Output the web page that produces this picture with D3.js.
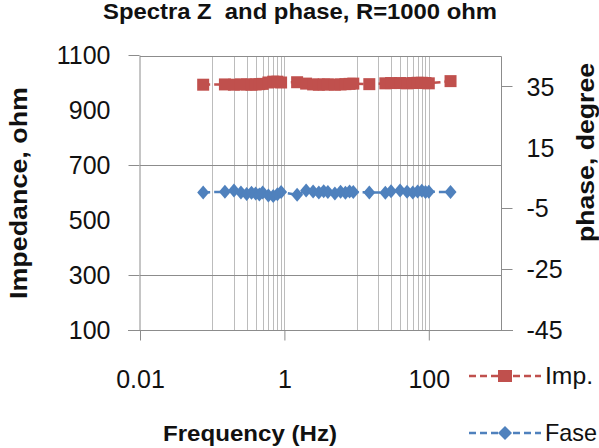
<!DOCTYPE html>
<html>
<head>
<meta charset="utf-8">
<script src="https://cdn.jsdelivr.net/npm/d3@7"></script>
<style>
body { margin: 0; background: #fff; }
text { font-family: "Liberation Sans", Arial, sans-serif; fill: #111; }
.bold { font-weight: bold; }
</style>
</head>
<body>
<svg class="chart"></svg>
<script>
var freq = [0.075, 0.15, 0.2, 0.25, 0.3, 0.35, 0.4, 0.45, 0.5, 0.6, 0.7, 0.8, 0.9,
            1.5, 2, 2.5, 3, 3.5, 4, 5, 6, 7, 8, 9, 15,
            25, 30, 40, 50, 60, 70, 80, 90, 100, 200];
var imp = [992, 993, 992, 993, 993, 992, 993, 994, 995, 1000, 1003, 1003, 1000,
           1001, 996, 993, 992, 993, 993, 992, 993, 994, 995, 996, 994,
           997, 998, 998, 997, 998, 999, 999, 998, 997, 1005];
var phase = [0.2, 0.4, 0.8, 0.2, -0.3, 0.1, -0.2, -0.5, 0.2, -0.8, -1.0, -0.4, 0.3,
             -0.6, 0.8, 0.5, 0.2, 0.6, 0.3, -0.2, 0.4, 0.1, 0.5, 0.3, 0.2,
             0.1, 0.6, 0.8, 0.4, 0.2, 0.5, 0.7, 0.3, 0.4, 0.3];

var freqTicks = [0.01, 1, 100];
var freqGrid = [0.1, 0.2, 0.3, 0.4, 0.5, 0.6, 0.7, 0.8, 0.9, 1,
                10, 20, 30, 40, 50, 60, 70, 80, 90, 100];
var impTicks = [100, 300, 500, 700, 900, 1100];
var impMarks = [100, 300, 700, 1100];
var impGrid = [300, 700];
var phaseTicks = [-45, -25, -5, 15, 35];
var phaseMarks = [-45, -25, -5, 35];

var width = 599, height = 448;
var plot = {left: 140, right: 501, top: 56, bottom: 330};

var red = "#c0504d", blue = "#4f81bd";

var svg = d3.select(".chart")
    .attr("width", width)
    .attr("height", height);

var x = d3.scaleLog().domain([0.01, 1000]).range([plot.left, plot.right]);
var yL = d3.scaleLinear().domain([100, 1100]).range([plot.bottom, plot.top - 1]);
var yR = d3.scaleLinear().domain([-45, 45]).range([plot.bottom, plot.top]);

var plain = function(d) { return String(d); };

// gridlines
svg.append("g").selectAll("line")
    .data(freqGrid)
    .enter().append("line")
    .attr("x1", function(d) { return Math.round(x(d)) + 0.5; })
    .attr("x2", function(d) { return Math.round(x(d)) + 0.5; })
    .attr("y1", plot.top).attr("y2", plot.bottom)
    .attr("stroke", "#bcbcbc").attr("stroke-width", 1);

svg.append("g").selectAll("line")
    .data(impGrid)
    .enter().append("line")
    .attr("x1", plot.left).attr("x2", plot.right)
    .attr("y1", function(d) { return Math.round(yL(d)) + 0.5; })
    .attr("y2", function(d) { return Math.round(yL(d)) + 0.5; })
    .attr("stroke", "#8c8c8c").attr("stroke-width", 1);

// plot frame (top and right)
svg.append("path")
    .attr("d", "M" + plot.left + "," + (plot.top + 0.5) + "H" + (plot.right + 0.5) + "V" + plot.bottom)
    .attr("fill", "none").attr("stroke", "#8c8c8c");

// left axis
var axisL = svg.append("g")
    .attr("transform", "translate(" + (plot.left - 0.5) + ",0)")
    .call(d3.axisLeft(yL).tickValues(impTicks).tickSize(0).tickPadding(29).tickFormat(plain));
axisL.select(".domain").attr("stroke", "#8c8c8c");
axisL.selectAll("text").attr("font-size", 25).attr("font-family", null).attr("dy", "0.35em");
axisL.selectAll(".mark").data(impMarks).enter().append("line")
    .attr("class", "mark")
    .attr("x1", -11).attr("x2", 0)
    .attr("y1", function(d) { return Math.round(yL(d)) + 0.5; })
    .attr("y2", function(d) { return Math.round(yL(d)) + 0.5; })
    .attr("stroke", "#8c8c8c");

// right axis
var axisR = svg.append("g")
    .attr("transform", "translate(" + (plot.right + 0.5) + ",0)")
    .call(d3.axisRight(yR).tickValues(phaseTicks).tickSize(0).tickPadding(25).tickFormat(plain));
axisR.select(".domain").remove();
axisR.selectAll("text").attr("font-size", 25).attr("font-family", null).attr("dy", "0.35em");
axisR.selectAll(".mark").data(phaseMarks).enter().append("line")
    .attr("class", "mark")
    .attr("x1", 0).attr("x2", 11)
    .attr("y1", function(d) { return Math.round(yR(d)) + 0.5; })
    .attr("y2", function(d) { return Math.round(yR(d)) + 0.5; })
    .attr("stroke", "#8c8c8c");

// bottom axis
var axisB = svg.append("g")
    .attr("transform", "translate(0," + (plot.bottom + 0.5) + ")")
    .call(d3.axisBottom(x).tickValues(freqTicks).tickSize(10).tickPadding(30).tickFormat(plain));
axisB.select(".domain").attr("d", "M" + (plot.left - 12) + ",0H" + (plot.right + 12));
axisB.selectAll(".domain, line").attr("stroke", "#8c8c8c");
axisB.selectAll("text").attr("font-size", 25).attr("font-family", null);

// series
var lineImp = d3.line()
    .x(function(d, i) { return x(freq[i]); })
    .y(function(d) { return yL(d); });
var linePh = d3.line()
    .x(function(d, i) { return x(freq[i]); })
    .y(function(d) { return yR(d); });

svg.append("path").datum(imp)
    .attr("d", lineImp).attr("fill", "none")
    .attr("stroke", red).attr("stroke-width", 2.5).attr("stroke-dasharray", "7,4");
svg.append("path").datum(phase)
    .attr("d", linePh).attr("fill", "none")
    .attr("stroke", blue).attr("stroke-width", 2.5).attr("stroke-dasharray", "7,4");

var square = "M-6,-6H6V6H-6Z";
var diamond = "M0,-7L6,0L0,7L-6,0Z";

svg.append("g").selectAll("path")
    .data(imp)
    .enter().append("path")
    .attr("d", square)
    .attr("fill", red)
    .attr("transform", function(d, i) { return "translate(" + x(freq[i]) + "," + yL(d) + ")"; });

svg.append("g").selectAll("path")
    .data(phase)
    .enter().append("path")
    .attr("d", diamond)
    .attr("fill", blue)
    .attr("transform", function(d, i) { return "translate(" + x(freq[i]) + "," + yR(d) + ")"; });

// titles
svg.append("text")
    .attr("class", "bold")
    .attr("x", 103).attr("y", 19)
    .attr("font-size", 22.5)
    .attr("textLength", 394).attr("lengthAdjust", "spacingAndGlyphs")
    .style("white-space", "pre")
    .text("Spectra Z  and phase, R=1000 ohm");

svg.append("text")
    .attr("class", "bold")
    .attr("transform", "translate(27,299) rotate(-90)")
    .attr("font-size", 23)
    .attr("textLength", 212).attr("lengthAdjust", "spacingAndGlyphs")
    .text("Impedance, ohm");

svg.append("text")
    .attr("class", "bold")
    .attr("transform", "translate(594,242) rotate(-90)")
    .attr("font-size", 23)
    .attr("textLength", 179).attr("lengthAdjust", "spacingAndGlyphs")
    .text("phase, degree");

svg.append("text")
    .attr("class", "bold")
    .attr("x", 163).attr("y", 441)
    .attr("font-size", 22)
    .attr("textLength", 174).attr("lengthAdjust", "spacingAndGlyphs")
    .text("Frequency (Hz)");

// legend
var legend = [
    {name: "Imp.", color: red, shape: "M-7,-6H7V6H-7Z", y: 376, w: 48},
    {name: "Fase", color: blue, shape: "M0,-7L7,0L0,7L-7,0Z", y: 433, w: 52}
];
var lg = svg.append("g").selectAll("g")
    .data(legend)
    .enter().append("g")
    .attr("transform", function(d) { return "translate(0," + d.y + ")"; });
lg.append("line")
    .attr("x1", 469).attr("x2", 541)
    .attr("stroke", function(d) { return d.color; })
    .attr("stroke-width", 2.5).attr("stroke-dasharray", "7,4");
lg.append("path")
    .attr("d", function(d) { return d.shape; })
    .attr("fill", function(d) { return d.color; })
    .attr("transform", "translate(505,0)");
lg.append("text")
    .attr("x", 545).attr("dy", "0.35em")
    .attr("font-size", 24)
    .attr("textLength", function(d) { return d.w; }).attr("lengthAdjust", "spacingAndGlyphs")
    .text(function(d) { return d.name; });
</script>
</body>
</html>
